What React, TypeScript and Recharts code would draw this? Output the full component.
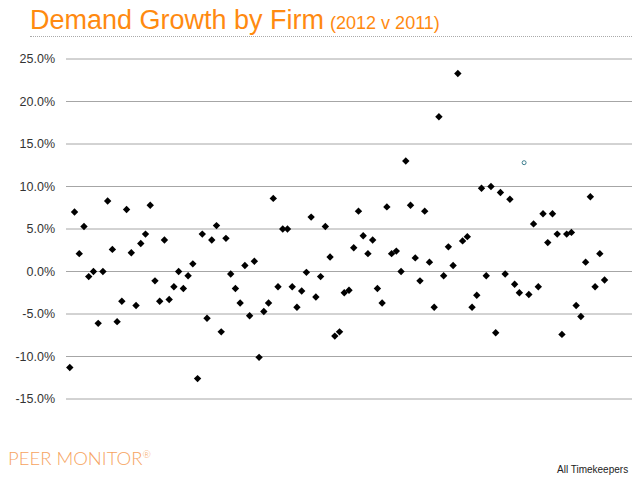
import { ScatterChart, Scatter, XAxis, YAxis, CartesianGrid } from "recharts";

// demand growth per firm, 2012 vs 2011 (%), firms in chart order
const growth = [
  -11.3, 7.0, 2.1, 5.3, -0.6, 0.0, -6.1, 0.0, 8.3, 2.6,
  -5.9, -3.5, 7.3, 2.2, -4.0, 3.3, 4.4, 7.8, -1.1, -3.5,
  3.7, -3.3, -1.8, 0.0, -2.0, -0.5, 0.9, -12.6, 4.4, -5.5,
  3.7, 5.4, -7.1, 3.9, -0.3, -2.0, -3.7, 0.7, -5.2, 1.2,
  -10.1, -4.7, -3.7, 8.6, -1.8, 5.0, 5.0, -1.8, -4.2, -2.3,
  -0.1, 6.4, -3.0, -0.6, 5.3, 1.7, -7.6, -7.1, -2.5, -2.2,
  2.8, 7.1, 4.2, 2.1, 3.7, -2.0, -3.7, 7.6, 2.1, 2.4,
  0.0, 13.0, 7.8, 1.6, -1.1, 7.1, 1.1, -4.2, 18.2, -0.5,
  2.9, 0.7, 23.3, 3.6, 4.1, -4.2, -2.8, 9.8, -0.5, 10.0,
  -7.2, 9.3, -0.3, 8.5, -1.5, -2.5, 12.8, -2.7, 5.6, -1.8,
  6.8, 3.4, 6.8, 4.4, -7.4, 4.4, 4.6, -4.0, -5.3, 1.1,
  8.8, -1.8, 2.1, -1.0,
];

// the one firm drawn with a different marker
const highlightFirm = 97;

const yTicks = [-15, -10, -5, 0, 5, 10, 15, 20, 25];

const firms = growth
  .map((v, i) => ({ firm: i + 1, growth: v }))
  .filter((d) => d.firm !== highlightFirm);

const highlight = [{ firm: highlightFirm, growth: growth[highlightFirm - 1] }];

const Diamond = (props: any) => {
  const { cx, cy } = props;
  const r = 3.7;
  return (
    <path
      d={`M${cx},${cy - r}L${cx + r},${cy}L${cx},${cy + r}L${cx - r},${cy}Z`}
      fill="#000"
    />
  );
};

const Ring = (props: any) => {
  const { cx, cy } = props;
  return <circle cx={cx} cy={cy} r={2} fill="none" stroke="#3f7f8f" strokeWidth={1} />;
};

export default function App() {
  return (
    <div
      style={{
        position: "absolute",
        left: 0,
        top: 0,
        width: 632,
        height: 477,
        overflow: "hidden",
        background: "#fff",
        fontFamily: "Arial, 'Liberation Sans', sans-serif",
      }}
    >
      <div
        style={{
          position: "absolute",
          left: 30,
          top: 4,
          width: 602,
          height: 32,
          borderBottom: "1px dotted #aaa",
          color: "#ff8a10",
          whiteSpace: "nowrap",
        }}
      >
        <span style={{ fontSize: 27, lineHeight: "32px" }}>Demand Growth by Firm</span>
        <span style={{ fontSize: 18, marginLeft: 6 }}>(2012 v 2011)</span>
      </div>

      <ScatterChart
        width={632}
        height={477}
        margin={{ top: 59, right: 0, bottom: 78, left: 0 }}
      >
        <CartesianGrid vertical={false} stroke="#a6a6a6" strokeWidth={1} />
        <XAxis
          type="number"
          dataKey="firm"
          domain={[0.2, 119.8]}
          hide
        />
        <YAxis
          type="number"
          dataKey="growth"
          domain={[-15, 25]}
          ticks={yTicks}
          width={66}
          axisLine={false}
          tickLine={false}
          tickSize={0}
          tickMargin={11}
          tick={{ fill: "#333", fontSize: 12.5 }}
          tickFormatter={(v: number) => `${v.toFixed(1)}%`}
        />
        <Scatter data={firms} shape={Diamond} isAnimationActive={false} />
        <Scatter data={highlight} shape={Ring} isAnimationActive={false} />
      </ScatterChart>

      <div
        style={{
          position: "absolute",
          left: 8,
          top: 447,
          color: "#f6a35e",
          fontFamily: "Lato, 'Open Sans', sans-serif",
          fontWeight: 300,
          fontSize: 18.5,
          whiteSpace: "nowrap",
        }}
      >
        PEER MONITOR
        <sup style={{ fontSize: 10 }}>®</sup>
      </div>
      <div
        style={{
          position: "absolute",
          left: 557,
          top: 464,
          fontSize: 10,
          color: "#222",
          whiteSpace: "nowrap",
        }}
      >
        All Timekeepers
      </div>
    </div>
  );
}
